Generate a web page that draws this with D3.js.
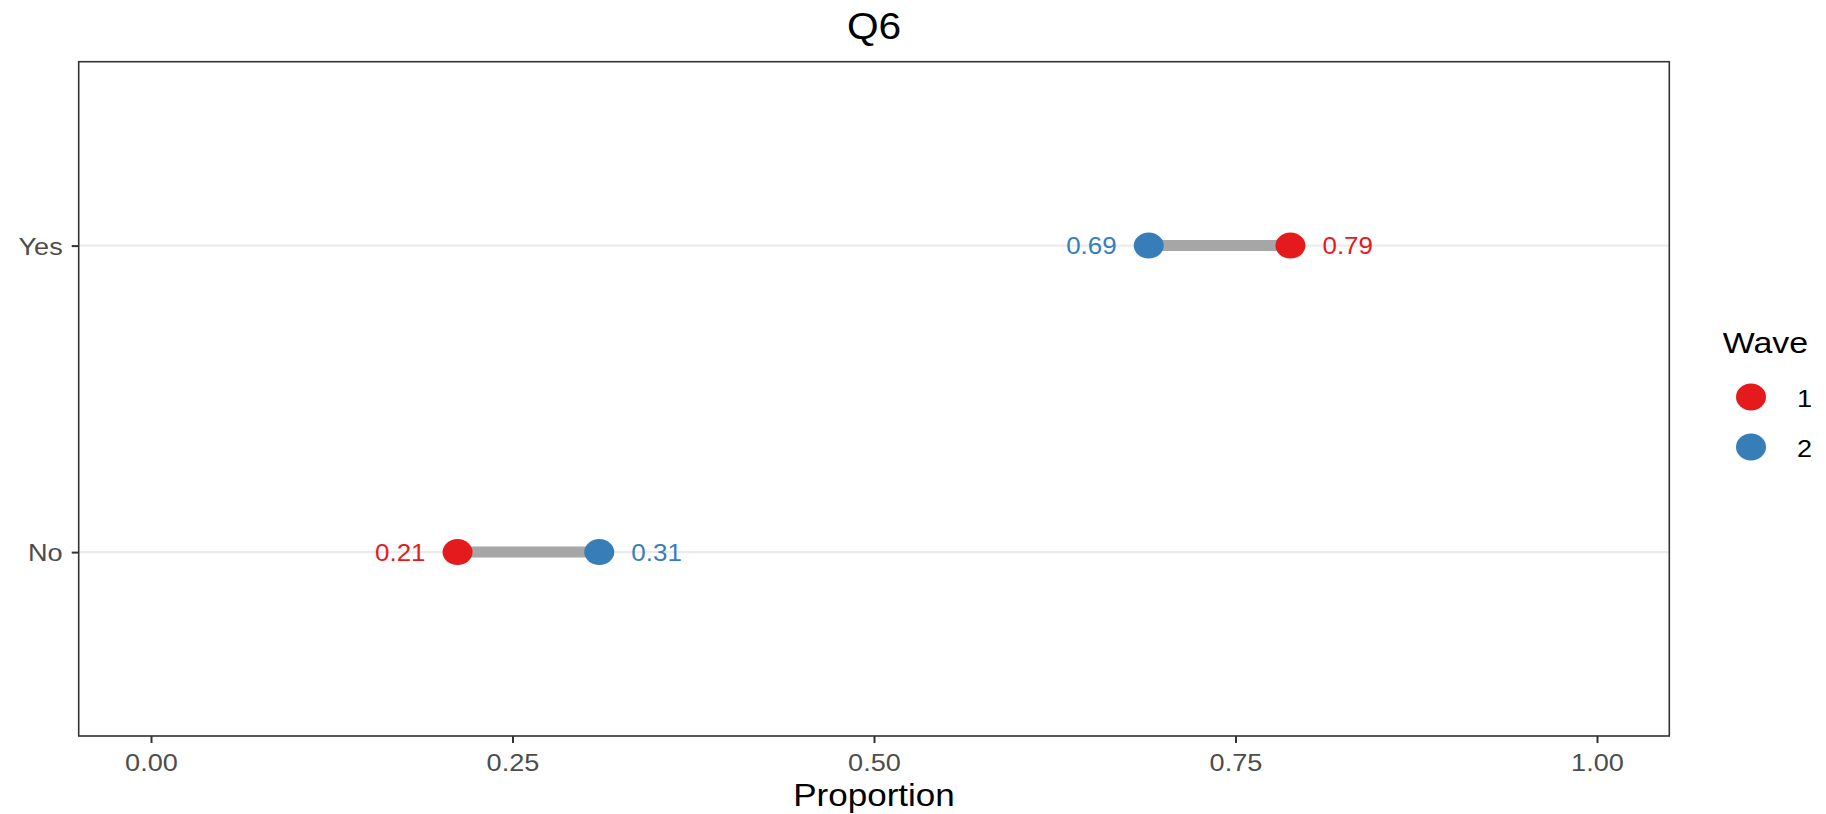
<!DOCTYPE html>
<html>
<head>
<meta charset="utf-8">
<script src="https://cdn.jsdelivr.net/npm/d3@7"></script>
<style>
  body { margin: 0; background: #fff; }
  svg text { font-family: "Liberation Sans", Arial, sans-serif; }
</style>
</head>
<body>
<div id="chart"></div>
<script>
// data (labels are rounded to 2 decimals)
const categories = ['Yes', 'No'];
const waves = ['1', '2'];
const wave1 = [0.788, 0.212];
const wave2 = [0.69, 0.31];
const xTicks = [0, 0.25, 0.5, 0.75, 1];
const waveColors = ['#e41a1c', '#377eb8'];

const width = 1826;
const height = 814;
const panel = { left: 78.7, right: 1669.3, top: 61.7, bottom: 736 };
const stretch = 1.13; // reference text is a bit wider than plain Arial

const svg = d3.select('#chart')
  .append('svg')
  .attr('width', width)
  .attr('height', height);

const x = d3.scaleLinear().domain([-0.05, 1.05]).range([panel.left, panel.right]);
const y = d3.scalePoint().domain(categories).range([panel.top, panel.bottom]).padding(0.6);
const color = d3.scaleOrdinal().domain(waves).range(waveColors);

const rows = categories.map((c, i) => ({ cat: c, v1: wave1[i], v2: wave2[i] }));

const putText = (sel, tx, ty) => sel.attr('transform', `translate(${tx},${ty}) scale(${stretch},1)`);

// y grid lines
svg.append('g')
  .selectAll('line')
  .data(categories)
  .enter().append('line')
  .attr('x1', panel.left)
  .attr('x2', panel.right)
  .attr('y1', d => y(d))
  .attr('y2', d => y(d))
  .attr('stroke', '#ebebeb')
  .attr('stroke-width', 2.4);

// segments between the waves
svg.append('g')
  .selectAll('line')
  .data(rows)
  .enter().append('line')
  .attr('x1', d => x(d.v1))
  .attr('x2', d => x(d.v2))
  .attr('y1', d => y(d.cat))
  .attr('y2', d => y(d.cat))
  .attr('stroke', '#a6a6a6')
  .attr('stroke-width', 11);

// points + value labels
const pts = [];
rows.forEach((r) => {
  const lo = Math.min(r.v1, r.v2);
  pts.push({ cat: r.cat, wave: '1', v: r.v1, side: r.v1 === lo ? -1 : 1 });
  pts.push({ cat: r.cat, wave: '2', v: r.v2, side: r.v2 === lo ? -1 : 1 });
});

svg.append('g')
  .selectAll('ellipse')
  .data(pts)
  .enter().append('ellipse')
  .attr('cx', d => x(d.v))
  .attr('cy', d => y(d.cat))
  .attr('rx', 15)
  .attr('ry', 13)
  .attr('fill', d => color(d.wave));

svg.append('g')
  .selectAll('text')
  .data(pts)
  .enter().append('text')
  .each(function (d) {
    putText(d3.select(this), x(d.v) + d.side * 32, y(d.cat) + 8.5);
  })
  .attr('text-anchor', d => (d.side < 0 ? 'end' : 'start'))
  .attr('font-size', 23)
  .attr('fill', d => color(d.wave))
  .text(d => d3.format('.2f')(d.v));

// panel border
svg.append('rect')
  .attr('x', panel.left)
  .attr('y', panel.top)
  .attr('width', panel.right - panel.left)
  .attr('height', panel.bottom - panel.top)
  .attr('fill', 'none')
  .attr('stroke', '#333333')
  .attr('stroke-width', 1.6);

// x axis
const xAxis = svg.append('g')
  .attr('transform', `translate(0,${panel.bottom})`)
  .call(d3.axisBottom(x).tickValues(xTicks).tickFormat(d3.format('.2f')).tickSize(7).tickSizeOuter(0));
xAxis.select('.domain').remove();
xAxis.selectAll('.tick line').attr('stroke', '#333333').attr('stroke-width', 2);
xAxis.selectAll('.tick text')
  .attr('y', null)
  .attr('dy', null)
  .attr('font-size', 24)
  .attr('fill', '#4d4d4d')
  .each(function () { putText(d3.select(this), 0, 34.5); });

// y axis
const yAxis = svg.append('g')
  .attr('transform', `translate(${panel.left},0)`)
  .call(d3.axisLeft(y).tickSize(7).tickSizeOuter(0));
yAxis.select('.domain').remove();
yAxis.selectAll('.tick line').attr('stroke', '#333333').attr('stroke-width', 2);
yAxis.selectAll('.tick text')
  .attr('x', null)
  .attr('dy', null)
  .attr('font-size', 24)
  .attr('fill', '#4d4d4d')
  .each(function () { putText(d3.select(this), -16, 8.5); });

// titles
putText(svg.append('text'), (panel.left + panel.right) / 2, 39.3)
  .attr('text-anchor', 'middle')
  .attr('font-size', 36)
  .attr('fill', '#000')
  .text('Q6');

putText(svg.append('text'), (panel.left + panel.right) / 2, 806)
  .attr('text-anchor', 'middle')
  .attr('font-size', 31)
  .attr('fill', '#000')
  .text('Proportion');

// legend
const legend = svg.append('g');
putText(legend.append('text'), 1722.7, 353.3)
  .attr('font-size', 30)
  .attr('fill', '#000')
  .text('Wave');

const keys = legend.selectAll('g.key')
  .data(waves)
  .enter().append('g')
  .attr('class', 'key')
  .attr('transform', (d, i) => `translate(1751,${397 + i * 50})`);
keys.append('ellipse')
  .attr('rx', 15)
  .attr('ry', 13.5)
  .attr('fill', d => color(d));
keys.append('text')
  .attr('font-size', 24)
  .attr('fill', '#000')
  .each(function () { putText(d3.select(this), 46, 9.5); })
  .text(d => d);
</script>
</body>
</html>
